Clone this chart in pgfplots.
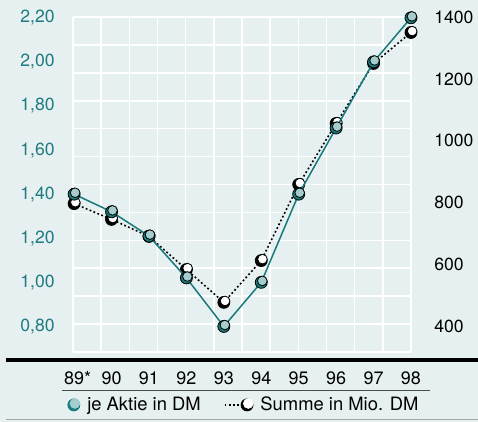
\documentclass[border=0pt]{standalone}
\usepackage{pgfplots}
\pgfplotsset{compat=1.18}
\usepackage{fontspec}
\setmainfont{TeX Gyre Heros}
\definecolor{bg}{HTML}{E7F0F1}
\definecolor{tealline}{HTML}{17797B}
\definecolor{tealtext}{HTML}{1E7B80}
\definecolor{teallight}{HTML}{A5CDCE}
\definecolor{tealdark}{HTML}{187A7C}
\pgfplotsset{
  base/.style={scale only axis, width=169pt, height=167.5pt,
    at={(36.5pt,35pt)}, anchor=south west,
    axis line style={draw=none}, major tick length=0pt, clip=false,
    xmin=-0.03, xmax=9},
}
\begin{document}
\begin{tikzpicture}
\fill[bg] (0,0) rectangle (239pt,211pt);
% grid
\begin{axis}[scale only axis, width=169pt, height=167.5pt,
  at={(36.5pt,35pt)}, anchor=south west,
  xmin=0, xmax=12, ymin=0, ymax=12,
  xtick={0,...,12}, ytick={0,...,12}, xticklabels={}, yticklabels={},
  grid=major, major grid style={white, line width=0.8pt},
  axis line style={draw=none}, major tick length=0pt]
\addplot[draw=none] coordinates {(0,0)};
\end{axis}
% Summe (right axis)
\begin{axis}[base, ymin=317.6, ymax=1400.01,
  ytick={400,600,800,1000,1200,1400},
  yticklabels={400,600,800,1000,1200,1400},
  yticklabel pos=right, xtick=\empty,
  yticklabel style={anchor=west, inner sep=0pt, xshift=11.5pt,
    font=\fontsize{8.8}{10}\selectfont, text=black}]
\addplot[black, line width=0.8pt, dash pattern=on 0.9pt off 1.2pt, mark=none, forget plot]
  coordinates {(0,797)(1,746)(2,691)(3,584)(4,478)(5,613)(6,859)(7,1056)(8,1250)(9,1350)};
\addplot[only marks, mark=*, mark size=3pt, mark options={fill=black, draw=none}, forget plot]
  coordinates {(0,797)(1,746)(2,691)(3,584)(4,478)(5,613)(6,859)(7,1056)(8,1250)(9,1350)};
\addplot[only marks, mark=*, mark size=2.4pt, mark options={fill=white, draw=none, xshift=0.6pt, yshift=0.7pt}, forget plot]
  coordinates {(0,797)(1,746)(2,691)(3,584)(4,478)(5,613)(6,859)(7,1056)(8,1250)(9,1350)};
\end{axis}
% Aktie (left axis)
\begin{axis}[base, ymin=0.684, ymax=2.2036,
  ytick={0.8,1.0,1.2,1.4,1.6,1.8,2.0,2.2},
  yticklabels={{0,80},{1,00},{1,20},{1,40},{1,60},{1,80},{2,00},{2,20}},
  yticklabel style={anchor=east, inner sep=0pt, xshift=-9pt,
    font=\fontsize{8.8}{10}\selectfont, text=tealtext},
  xtick={0,...,9},
  xticklabels={89\rlap{*},90,91,92,93,94,95,96,97,98},
  xticklabel style={anchor=base, inner sep=0pt, yshift=-16.5pt,
    font=\fontsize{9}{10}\selectfont},
  legend columns=2,
  legend style={at={(0.503,-0.158)}, anchor=center, draw=none, fill=none,
    font=\fontsize{9.2}{10}\selectfont, nodes={inner sep=0pt},
    /tikz/every odd column/.append style={column sep=3.5pt},
    /tikz/every even column/.append style={column sep=11.5pt}},
  legend cell align=left]
\addplot[tealline, line width=0.75pt, mark=none, forget plot]
  coordinates {(0,1.40)(1,1.32)(2,1.21)(3,1.02)(4,0.80)(5,1.00)(6,1.40)(7,1.70)(8,2.00)(9,2.20)};
\addplot[only marks, mark=*, mark size=3pt, mark options={fill=tealdark, draw=none}, forget plot]
  coordinates {(0,1.40)(1,1.32)(2,1.21)(3,1.02)(4,0.80)(5,1.00)(6,1.40)(7,1.70)(8,2.00)(9,2.20)};
\addplot[only marks, mark=*, mark size=2.4pt, mark options={fill=teallight, draw=none, xshift=0.5pt, yshift=0.7pt}, forget plot]
  coordinates {(0,1.40)(1,1.32)(2,1.21)(3,1.02)(4,0.80)(5,1.00)(6,1.40)(7,1.70)(8,2.00)(9,2.20)};
\addlegendimage{legend image code/.code={
  \fill[tealdark] (3pt,0pt) circle (3pt);
  \fill[teallight] (3.5pt,0.7pt) circle (2.4pt);}}
\addlegendentry{je Aktie in DM}
\addlegendimage{legend image code/.code={
  \draw[black, line width=0.8pt, dash pattern=on 0.9pt off 1.2pt] (0pt,0pt) -- (9pt,0pt);
  \fill[black] (11.25pt,0pt) circle (3pt);
  \fill[white] (11.85pt,0.7pt) circle (2.4pt);}}
\addlegendentry{Summe in Mio. DM}
\end{axis}
\draw[black, line width=2pt] (3pt,30.85pt) -- (239pt,30.85pt);
\draw[black!70, line width=0.5pt] (31pt,15.5pt) -- (215pt,15.5pt);
\draw[black!35, line width=0.5pt] (3pt,1pt) -- (239pt,1pt);
\pgfresetboundingbox
\useasboundingbox (0,0) rectangle (239pt,211pt);
\end{tikzpicture}
\end{document}
